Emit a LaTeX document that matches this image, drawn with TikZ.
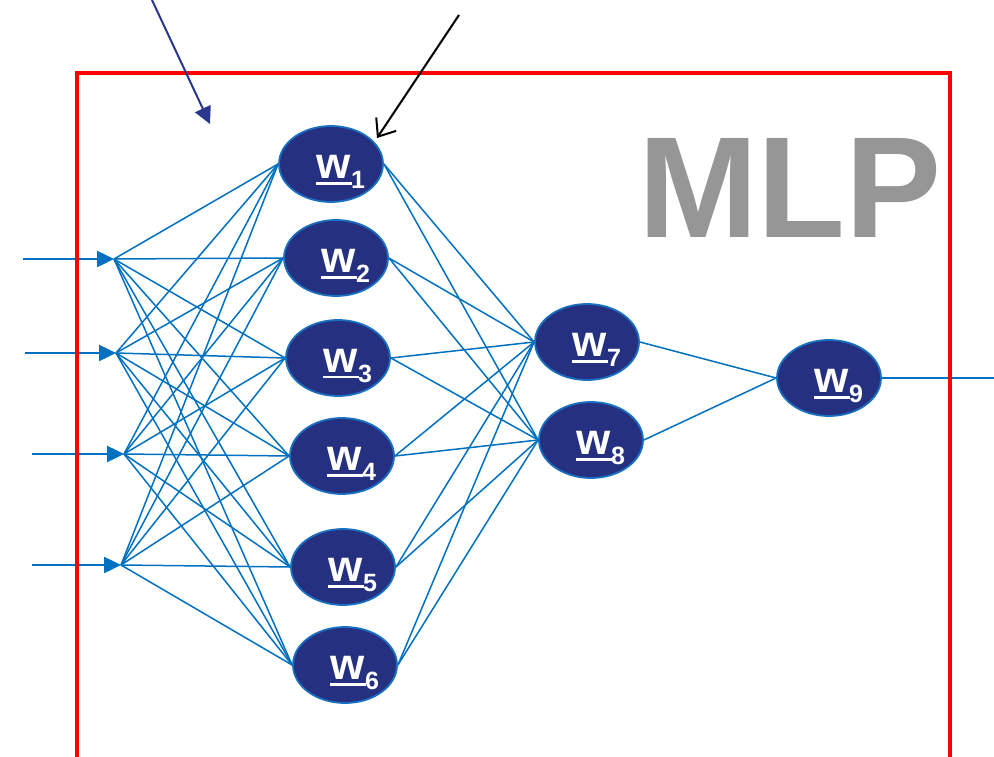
\documentclass[tikz,border=0pt]{standalone}
\usepackage{fontspec}
\setmainfont{Liberation Sans}
\usetikzlibrary{shapes.geometric,arrows.meta,backgrounds}
\definecolor{navyfill}{RGB}{37,48,128}
\definecolor{nodeedge}{RGB}{25,112,192}
\definecolor{connblue}{RGB}{0,112,192}
\definecolor{redframe}{RGB}{255,0,0}
\definecolor{mlpgray}{RGB}{150,150,150}
\definecolor{navyarrowc}{RGB}{43,55,140}
\newcommand\wlab[1]{\bfseries\fontsize{44}{44}\selectfont\setbox0\hbox{w}\rlap{\kern-1pt\rule[-6pt]{\dimexpr\wd0+2pt\relax}{2.4pt}}w\raisebox{-10pt}{\fontsize{25}{25}\selectfont #1}}
\begin{document}
\begin{tikzpicture}[x=1pt,y=-1pt,
  neuron/.style={ellipse,draw=nodeedge,line width=1.8pt,fill=navyfill,minimum width=104pt,minimum height=76pt,inner sep=0pt},
  lab/.style={text=white,inner sep=0pt},
  connline/.style={draw=connblue,line width=1.5pt},
  inarrow/.style={draw=connblue,line width=2.5pt,-{Triangle[length=17pt,width=16pt,fill=connblue]}},
  navyarrow/.style={draw=navyarrowc,line width=2pt,-{Triangle[length=17pt,width=17pt,fill=navyarrowc]}},
  blackarrow/.style={draw=black,line width=2pt,-{Straight Barb[length=15pt,width=24pt]}}]
\useasboundingbox (0,0) rectangle (994,757);
% hidden / output neurons
\node[neuron] (w1) at (331,164) {};
\node[neuron] (w2) at (336,258) {};
\node[neuron] (w3) at (338,358) {};
\node[neuron] (w4) at (342,456) {};
\node[neuron] (w5) at (343,567) {};
\node[neuron] (w6) at (345,665) {};
\node[neuron] (w7) at (587,342) {};
\node[neuron] (w8) at (591,440) {};
\node[neuron] (w9) at (829,378) {};
\foreach \n in {1,...,9}
  \node[lab] (l\n) at ([shift={(10,8)}]w\n.center) {\wlab{\n}};
% inputs
\coordinate (h1) at (114,259);
\coordinate (h2) at (116,353);
\coordinate (h3) at (124,454);
\coordinate (h4) at (121,565);
\coordinate (i1) at (23,259);
\coordinate (i2) at (25,353);
\coordinate (i3) at (32,454);
\coordinate (i4) at (32,565);
\coordinate (out) at (994,378);
\begin{scope}[on background layer]
\foreach \i in {1,...,4}
  \foreach \j in {1,...,6}
    \draw[connline] (h\i) -- (w\j.west);
\foreach \j in {1,...,6}
  \foreach \k in {7,8}
    \draw[connline] (w\j.east) -- (w\k.west);
\draw[connline] (w7.east) -- (w9.west);
\draw[connline] (w8.east) -- (w9.west);
\draw[connline] (w9.east) -- (out);
\foreach \i in {1,...,4}
  \draw[inarrow] (i\i) -- (h\i);
\end{scope}
% MLP title
\node[text=mlpgray,font=\bfseries\fontsize{144}{144}\selectfont,inner sep=0pt] (mlp) at (790,188) {MLP};
% frame
\draw[redframe,line width=4pt] (77,757) -- (77,73) -- (950,73) -- (950,757);
% top arrows
\coordinate (a1s) at (152,0);
\coordinate (a1e) at (210,124);
\coordinate (a2s) at (459,15);
\coordinate (a2e) at (377,138);
\draw[navyarrow] (a1s) -- (a1e);
\draw[blackarrow] (a2s) -- (a2e);
\end{tikzpicture}
\end{document}
